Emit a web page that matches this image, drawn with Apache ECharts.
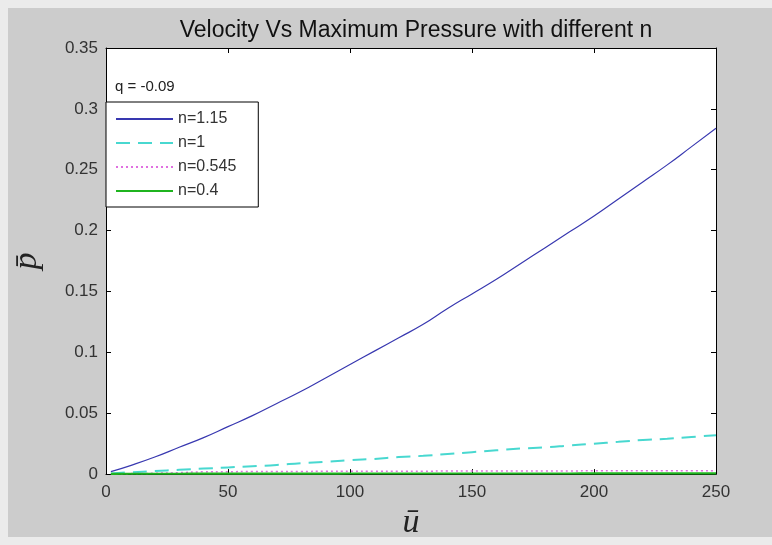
<!DOCTYPE html>
<html>
<head>
<meta charset="utf-8">
<script src="https://cdn.jsdelivr.net/npm/echarts@6/dist/echarts.min.js"></script>
<style>
html,body{margin:0;padding:0;background:#e8e8e8;}
#chart{width:772px;height:545px;}
</style>
</head>
<body>
<div id="chart"></div>
<script>
// ---- data ----
const titleText = 'Velocity Vs Maximum Pressure with different n';
const annotation = 'q = -0.09';
const uValues = [2, 10, 20, 30, 40, 50, 60, 70, 80, 90, 100, 110, 120, 130, 140, 150, 160, 170, 180, 190, 200, 210, 220, 230, 240, 250];
const pN115 = [0.002, 0.007, 0.014, 0.022, 0.030, 0.039, 0.048, 0.058, 0.068, 0.079, 0.090, 0.101, 0.112, 0.123, 0.136, 0.148, 0.160, 0.173, 0.186, 0.199, 0.212, 0.226, 0.240, 0.254, 0.269, 0.284];
const pN1 = [0.0005, 0.0015, 0.0025, 0.0035, 0.0045, 0.0055, 0.0065, 0.0075, 0.009, 0.010, 0.0115, 0.0125, 0.014, 0.015, 0.0165, 0.018, 0.0195, 0.021, 0.022, 0.0235, 0.025, 0.0265, 0.028, 0.029, 0.0305, 0.032];
const pN0545 = [0.0002, 0.0004, 0.0007, 0.0012, 0.0019, 0.0020, 0.0021, 0.0022, 0.0022, 0.0023, 0.0023, 0.0024, 0.0024, 0.0024, 0.0025, 0.0025, 0.0025, 0.0026, 0.0026, 0.0026, 0.0027, 0.0027, 0.0027, 0.0028, 0.0028, 0.0028];
const pN04 = [0.0002, 0.0003, 0.0003, 0.0003, 0.0004, 0.0004, 0.0004, 0.0004, 0.0004, 0.0004, 0.0005, 0.0005, 0.0005, 0.0005, 0.0005, 0.0005, 0.0005, 0.0005, 0.0005, 0.0005, 0.0006, 0.0006, 0.0006, 0.0006, 0.0006, 0.0006];
const seriesNames = ['n=1.15', 'n=1', 'n=0.545', 'n=0.4'];
const xTicks = {min: 0, max: 250, interval: 50};
const yTicks = {min: 0, max: 0.35, interval: 0.05};

const pair = arr => uValues.map((u, i) => [u, arr[i]]);

const chart = echarts.init(document.getElementById('chart'));
const tickCommon = {show: true, inside: true, length: 5, lineStyle: {color: '#000'}};
const axisLineCommon = {show: true, onZero: false, lineStyle: {color: '#000', width: 1}};
const labelStyle = {color: '#333', fontSize: 17, fontFamily: 'Liberation Sans, Arial, sans-serif'};

chart.setOption({
  backgroundColor: '#cccccc',
  animation: false,
  title: {
    text: titleText,
    left: 411, top: 14, textAlign: 'center',
    textStyle: {fontSize: 23, fontWeight: 'normal', color: '#111', fontFamily: 'Liberation Sans, Arial, sans-serif'}
  },
  grid: {left: 106, right: 56, top: 48, bottom: 52, show: true, backgroundColor: '#ffffff', borderWidth: 0},
  legend: {
    data: seriesNames,
    orient: 'vertical',
    left: 106, top: 102,
    padding: [9, 22, 8, 9],
    itemWidth: 57, itemHeight: 14, itemGap: 8,
    itemStyle: {opacity: 0},
    backgroundColor: '#ffffff',
    borderColor: '#000', borderWidth: 1, borderRadius: 0,
    textStyle: {fontSize: 16, color: '#333', fontFamily: 'Liberation Sans, Arial, sans-serif'}
  },
  graphic: [
    {type: 'rect', left: 0, top: 0, shape: {width: 772, height: 8}, style: {fill: '#ebebeb'}, silent: true, z: -10},
    {type: 'rect', left: 0, top: 0, shape: {width: 8, height: 545}, style: {fill: '#ebebeb'}, silent: true, z: -10},
    {type: 'rect', left: 0, top: 537, shape: {width: 772, height: 8}, style: {fill: '#ebebeb'}, silent: true, z: -10},
    {type: 'text', left: 115, top: 79, style: {text: annotation, fontSize: 15, fill: '#222', fontFamily: 'Liberation Sans, Arial, sans-serif'}}
  ],
  xAxis: [
    {type: 'value', min: xTicks.min, max: xTicks.max, interval: xTicks.interval, position: 'bottom',
     axisLine: axisLineCommon, axisTick: tickCommon, splitLine: {show: false},
     axisLabel: Object.assign({margin: 10}, labelStyle),
     name: '\u016B', nameLocation: 'middle', nameGap: 28,
     nameTextStyle: {fontSize: 34, fontStyle: 'italic', fontFamily: 'Liberation Serif, Times New Roman, serif', color: '#222'}},
    {type: 'value', min: xTicks.min, max: xTicks.max, interval: xTicks.interval, position: 'top',
     axisLine: axisLineCommon, axisTick: tickCommon, splitLine: {show: false}, axisLabel: {show: false}}
  ],
  yAxis: [
    {type: 'value', min: yTicks.min, max: yTicks.max, interval: yTicks.interval, position: 'left',
     axisLine: axisLineCommon, axisTick: tickCommon, splitLine: {show: false},
     axisLabel: Object.assign({margin: 8}, labelStyle),
     name: 'p\u0304', nameLocation: 'middle', nameGap: 62, nameRotate: 90,
     nameTextStyle: {fontSize: 34, fontStyle: 'italic', fontFamily: 'Liberation Serif, Times New Roman, serif', color: '#222'}},
    {type: 'value', min: yTicks.min, max: yTicks.max, interval: yTicks.interval, position: 'right',
     axisLine: axisLineCommon, axisTick: tickCommon, splitLine: {show: false}, axisLabel: {show: false}}
  ],
  series: [
    {name: seriesNames[0], type: 'line', data: pair(pN115), symbol: 'none', smooth: true,
     lineStyle: {color: '#3838b0', width: 1.2, type: 'solid'}, itemStyle: {color: '#3838b0'}},
    {name: seriesNames[1], type: 'line', data: pair(pN1), symbol: 'none', smooth: true,
     lineStyle: {color: '#48d8d0', width: 2, type: [14, 8]}, itemStyle: {color: '#48d8d0'}},
    {name: seriesNames[2], type: 'line', data: pair(pN0545), symbol: 'none', smooth: true,
     lineStyle: {color: '#e070e0', width: 1.5, type: [2, 3]}, itemStyle: {color: '#e070e0'}},
    {name: seriesNames[3], type: 'line', data: pair(pN04), symbol: 'none', smooth: true,
     lineStyle: {color: '#1fb41f', width: 2.2, type: 'solid'}, itemStyle: {color: '#1fb41f'}}
  ]
});
</script>
</body>
</html>
